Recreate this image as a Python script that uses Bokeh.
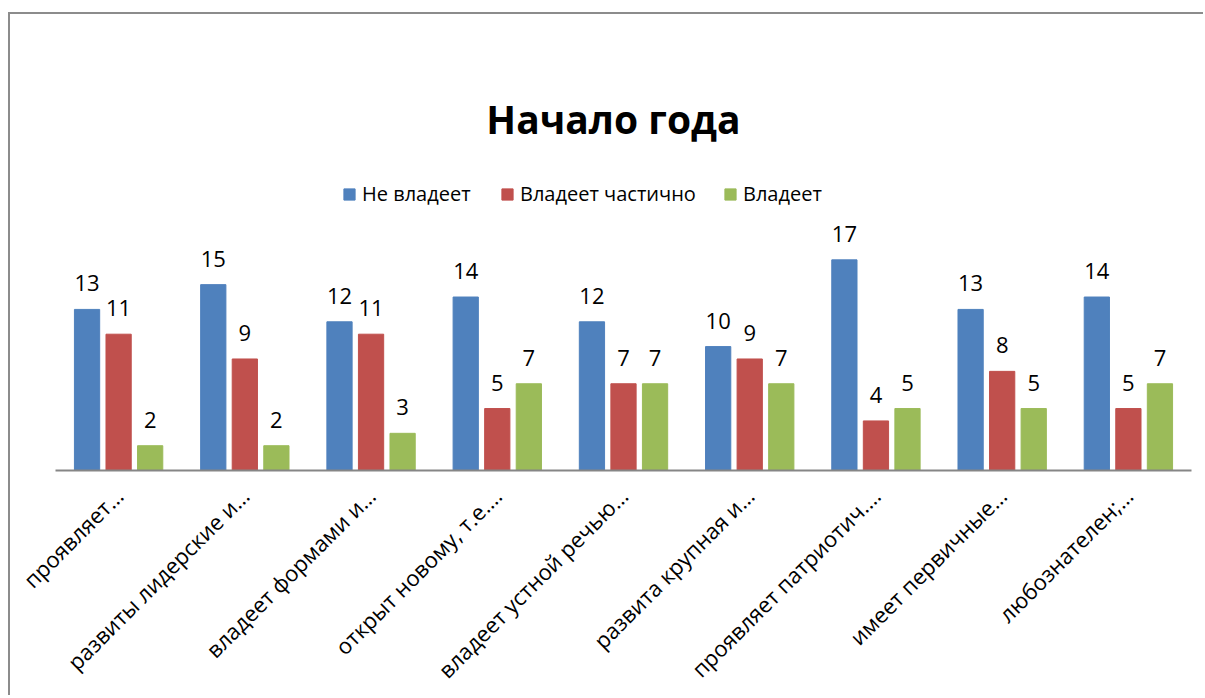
from math import pi
from bokeh.plotting import figure
from bokeh.models import FactorRange, Range1d, Label, Legend, LegendItem, ColumnDataSource
from bokeh.transform import dodge
from bokeh.core.properties import value
from bokeh.embed import file_html
from bokeh.resources import INLINE

categories = ["проявляет…", "развиты лидерские и…", "владеет формами и…",
              "открыт новому, т.е.…", "владеет устной речью…", "развита крупная и…",
              "проявляет патриотич.…", "имеет первичные…", "любознателен;…"]
series_names = ["Не владеет", "Владеет частично", "Владеет"]
ne_vladeet = [13, 15, 12, 14, 12, 10, 17, 13, 14]
vladeet_chastichno = [11, 9, 11, 5, 7, 9, 4, 8, 5]
vladeet = [2, 2, 3, 7, 7, 7, 5, 5, 7]
colors = ["#4F81BD", "#C0504D", "#9BBB59"]
title_text = "Начало года"

FONT = "Open Sans"

src = ColumnDataSource(dict(
    cat=categories,
    s0=ne_vladeet, s1=vladeet_chastichno, s2=vladeet,
    t0=[str(v) for v in ne_vladeet],
    t1=[str(v) for v in vladeet_chastichno],
    t2=[str(v) for v in vladeet],
))

p = figure(width=1195, height=683, output_backend="svg", toolbar_location=None,
           x_range=FactorRange(*categories, range_padding=0),
           y_range=Range1d(0, 36.8),
           min_border_left=45, min_border_right=14, min_border_top=0, min_border_bottom=226)
p.styles = {"border-top": "2px solid #8c8c8c", "border-left": "2px solid #8c8c8c",
            "margin-top": "12px", "margin-left": "8px"}
p.outline_line_color = None
p.xgrid.visible = False
p.ygrid.visible = False
p.yaxis.visible = False

offsets = [-0.25, 0.0, 0.25]
renderers = []
for i in range(3):
    r = p.vbar(x=dodge("cat", offsets[i], range=p.x_range), top="s%d" % i, width=0.2,
               source=src, fill_color=colors[i], line_color=colors[i])
    renderers.append(r)
    p.text(x=dodge("cat", offsets[i], range=p.x_range), y="s%d" % i, text="t%d" % i,
           source=src, text_align="center", text_baseline="alphabetic", y_offset=-26,
           text_font=value(FONT), text_font_size="22px", text_color="black")

ax = p.xaxis[0]
ax.major_label_orientation = pi / 4
ax.major_label_text_font = FONT
ax.major_label_text_font_size = "22px"
ax.major_label_text_color = "black"
ax.axis_line_color = "#868686"
ax.axis_line_width = 2
ax.major_tick_line_color = None
ax.minor_tick_line_color = None
ax.major_label_standoff = 15

leg_x = [287, 445, 668]
for i in range(3):
    leg = Legend(items=[LegendItem(label=series_names[i], renderers=[renderers[i]])],
                 location=(leg_x[i], 263), orientation="horizontal",
                 glyph_width=14, glyph_height=14, label_height=14,
                 label_standoff=6, label_text_font=FONT, label_text_font_size="20px",
                 label_text_color="black", padding=0, margin=0,
                 border_line_color=None, background_fill_alpha=0)
    p.add_layout(leg)

p.add_layout(Label(x=4.42, y=28.42, text=title_text, text_align="center",
                   text_baseline="alphabetic", text_font=FONT, text_font_size="39px",
                   text_font_style="bold", text_color="black"))

open("out.html", "w").write(file_html(p, INLINE))
